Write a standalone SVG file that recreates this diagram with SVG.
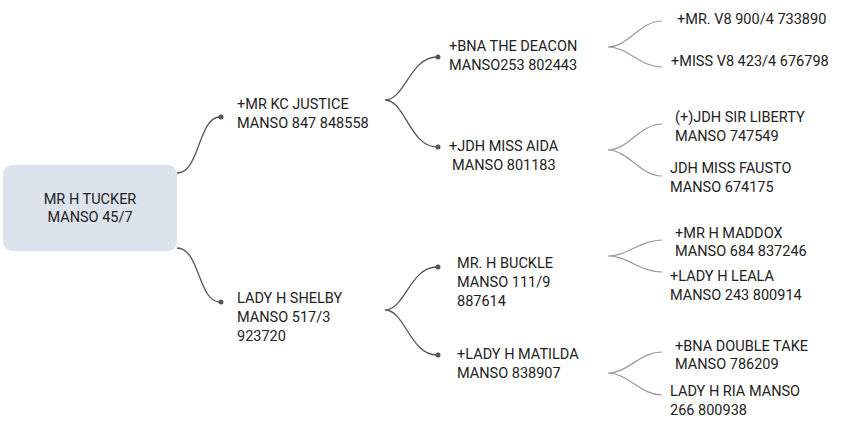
<svg xmlns="http://www.w3.org/2000/svg" width="849" height="427" viewBox="0 0 849 427">
<style>
text{font-family:Roboto,"Liberation Sans",sans-serif;font-size:14.5px;fill:#222}
.c1{fill:none;stroke:#555;stroke-width:1.3}
.c2{fill:none;stroke:#999;stroke-width:1.2}
.d{fill:#555}
</style>
<rect width="849" height="427" fill="#fff"/>
<g id="connectors">
<path class="c1" d="M177,173 C200,173 198,117 220,117"/><circle class="d" cx="221" cy="117" r="2.5"/>
<path class="c1" d="M177,248 C200,248 198,302 220,302"/><circle class="d" cx="221" cy="302" r="2.5"/>
<path class="c1" d="M385,100 C405,100 410,57 437,57 M385,100 C405,100 410,147 437,147"/>
<circle class="d" cx="438" cy="57" r="2.5"/><circle class="d" cx="438" cy="147" r="2.5"/>
<path class="c1" d="M385,310 C405,310 410,267 437,267 M385,310 C405,310 410,355 437,355"/>
<circle class="d" cx="438" cy="267" r="2.5"/><circle class="d" cx="438" cy="355" r="2.5"/>
<path class="c2" d="M608,47 C628,47 640,21 662,21 M608,47 C628,47 640,67 662,67"/>
<path class="c2" d="M608,150 C628,150 640,124 662,124 M608,150 C628,150 640,176 662,176"/>
<path class="c2" d="M608,256 C628,256 640,240 662,240 M608,256 C628,256 640,272 662,272"/>
<path class="c2" d="M608,373 C628,373 640,352 662,352 M608,373 C628,373 640,395 662,395"/>
</g>
<g id="root"><rect x="3" y="165" width="174" height="86" rx="9" fill="#dde3ec"/>
<text x="90" y="204" text-anchor="middle">MR H TUCKER</text><text x="90" y="222" text-anchor="middle">MANSO 45/7</text></g>
<g id="n1"><text x="237" y="109">+MR KC JUSTICE</text><text x="237" y="128">MANSO 847 848558</text></g>
<g id="n2"><text x="237" y="303">LADY H SHELBY</text><text x="237" y="322">MANSO 517/3</text><text x="237" y="341">923720</text></g>
<g id="n3"><text x="449" y="51">+BNA THE DEACON</text><text x="449" y="70">MANSO253 802443</text></g>
<g id="n4"><text x="449" y="151">+JDH MISS AIDA</text><text x="452" y="170">MANSO 801183</text></g>
<g id="n5"><text x="457" y="268">MR. H BUCKLE</text><text x="457" y="287">MANSO 111/9</text><text x="457" y="306">887614</text></g>
<g id="n6"><text x="457" y="359">+LADY H MATILDA</text><text x="457" y="378">MANSO 838907</text></g>
<g id="n7"><text x="677" y="24">+MR. V8 900/4 733890</text></g>
<g id="n8"><text x="671" y="66">+MISS V8 423/4 676798</text></g>
<g id="n9"><text x="675" y="122">(+)JDH SIR LIBERTY</text><text x="675" y="141">MANSO 747549</text></g>
<g id="n10"><text x="670" y="173">JDH MISS FAUSTO</text><text x="670" y="192">MANSO 674175</text></g>
<g id="n11"><text x="675" y="238">+MR H MADDOX</text><text x="675" y="256">MANSO 684 837246</text></g>
<g id="n12"><text x="670" y="281">+LADY H LEALA</text><text x="670" y="300">MANSO 243 800914</text></g>
<g id="n13"><text x="675" y="351">+BNA DOUBLE TAKE</text><text x="675" y="369">MANSO 786209</text></g>
<g id="n14"><text x="670" y="396">LADY H RIA MANSO</text><text x="670" y="415">266 800938</text></g>
</svg>
